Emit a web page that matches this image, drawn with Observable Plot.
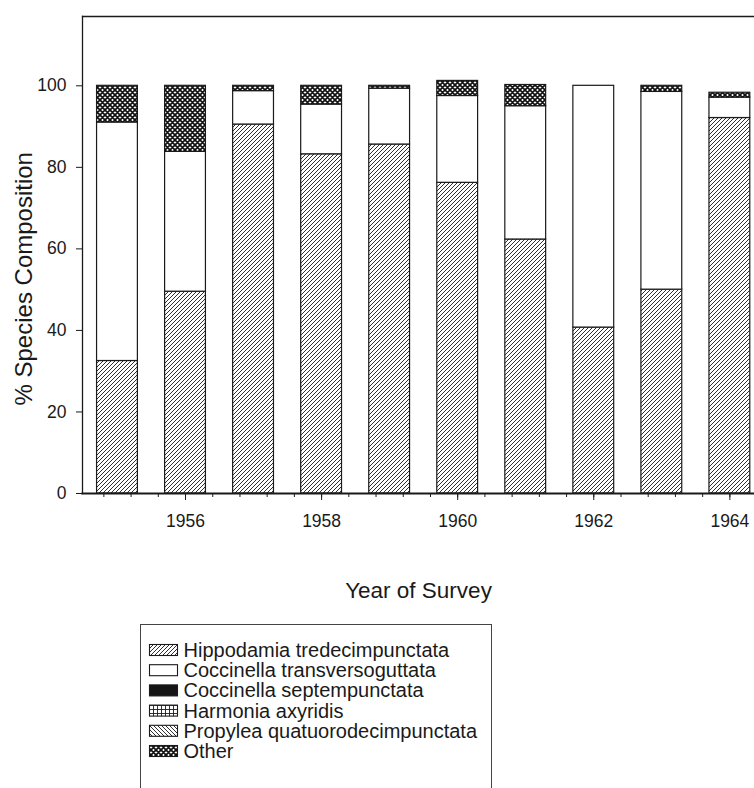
<!DOCTYPE html>
<html>
<head>
<meta charset="utf-8">
<script src="https://cdn.jsdelivr.net/npm/d3@7"></script>
<script src="https://cdn.jsdelivr.net/npm/@observablehq/plot@0.6"></script>
<style>
html, body { margin: 0; padding: 0; background: #fff; }
body { width: 754px; height: 788px; position: relative; overflow: hidden; font-family: "Liberation Sans", Arial, sans-serif; }
#chart { position: absolute; left: 0; top: 0; }
#legend { position: absolute; left: 140px; top: 624px; width: 352px; height: 220px; border: 1.5px solid #444; box-sizing: border-box; background: #fff; }
</style>
</head>
<body>
<svg width="0" height="0" style="position:absolute">
  <defs>
    <pattern id="pHip" patternUnits="userSpaceOnUse" width="4" height="4">
      <rect width="4" height="4" fill="#fff"/>
      <path d="M-1,1 L1,-1 M0,4 L4,0 M3,5 L5,3" stroke="#1a1a1a" stroke-width="0.9"/>
    </pattern>
    <pattern id="pPro" patternUnits="userSpaceOnUse" width="4" height="4">
      <rect width="4" height="4" fill="#fff"/>
      <path d="M-1,3 L1,5 M0,0 L4,4 M3,-1 L5,1" stroke="#1a1a1a" stroke-width="0.9"/>
    </pattern>
    <pattern id="pHar" patternUnits="userSpaceOnUse" width="4" height="4">
      <rect width="4" height="4" fill="#fff"/>
      <path d="M0,0.5 H4 M0.5,0 V4" stroke="#1a1a1a" stroke-width="0.9"/>
    </pattern>
    <pattern id="pOth" patternUnits="userSpaceOnUse" width="5" height="5">
      <rect width="5" height="5" fill="#fff"/>
      <path d="M0,0 L5,5 M5,0 L0,5 M-1,4 L1,6 M4,-1 L6,1 M-1,1 L1,-1 M4,6 L6,4" stroke="#111" stroke-width="1.7"/>
    </pattern>
  </defs>
</svg>
<div id="chart"></div>
<div id="legend"></div>
<script>
// ---- data ----
const years = [1955, 1956, 1957, 1958, 1959, 1960, 1961, 1962, 1963, 1964];
const species = [
  "Hippodamia tredecimpunctata",
  "Coccinella transversoguttata",
  "Coccinella septempunctata",
  "Harmonia axyridis",
  "Propylea quatuorodecimpunctata",
  "Other"
];
const hippodamia  = [32.5, 49.5, 90.5, 83.2, 85.6, 76.2, 62.3, 40.7, 50.0, 92.1];
const transverso  = [58.5, 34.3,  8.2, 12.2, 13.7, 21.3, 32.7, 59.3, 48.5,  5.0];
const septem      = [0, 0, 0, 0, 0, 0, 0, 0, 0, 0];
const harmonia    = [0, 0, 0, 0, 0, 0, 0, 0, 0, 0];
const propylea    = [0, 0, 0, 0, 0, 0, 0, 0, 0, 0];
const other       = [9.0, 16.2, 1.3, 4.6, 0.7, 3.7, 5.2, 0.0, 1.5, 1.2];
const xMajorTicks = [1956, 1958, 1960, 1962, 1964];
const xMinorTicks = [1954.8, 1955.2, 1955.6, 1956, 1956.4, 1956.8, 1957.2, 1957.6, 1958, 1958.4, 1958.8,
  1959.2, 1959.6, 1960, 1960.4, 1960.8, 1961.2, 1961.6, 1962, 1962.4, 1962.8, 1963.2, 1963.6, 1964];
const yTicks = [0, 20, 40, 60, 80, 100];

// ---- styles ----
const fills = ["url(#pHip)", "#fff", "#151515", "url(#pHar)", "url(#pPro)", "url(#pOth)"];
const halfBar = 0.3;

const seriesValues = [hippodamia, transverso, septem, harmonia, propylea, other];
const table = [];
years.forEach((year, i) => {
  species.forEach((sp, j) => {
    const v = seriesValues[j][i];
    if (v > 0) table.push({year, species: sp, value: v});
  });
});

const chart = Plot.plot({
  width: 754,
  height: 620,
  marginLeft: 82,
  marginRight: 0,
  marginTop: 16,
  marginBottom: 127,
  style: {fontFamily: '"Liberation Sans", Arial, sans-serif', color: "#1a1a1a", background: "#fff"},
  x: {domain: [1954.486, 1964.362]},
  y: {domain: [0, 117]},
  color: {type: "ordinal", domain: species, range: fills},
  marks: [
    Plot.rectY(table, Plot.stackY({
      x1: d => d.year - halfBar,
      x2: d => d.year + halfBar,
      y: "value",
      fill: "species",
      order: species,
      stroke: "#1a1a1a",
      strokeWidth: 1.2
    })),
    Plot.frame({anchor: "left", stroke: "#1a1a1a", strokeWidth: 1.3}),
    Plot.frame({anchor: "top", stroke: "#1a1a1a", strokeWidth: 1.3}),
    Plot.frame({anchor: "bottom", stroke: "#1a1a1a", strokeWidth: 2.2}),
    Plot.axisY({ticks: yTicks, tickSize: 6, tickPadding: 10, fontSize: 17.5, label: null, stroke: "#1a1a1a", fill: "#1a1a1a"}),
    Plot.axisX({ticks: xMinorTicks, tickSize: 4, tickFormat: () => "", label: null, stroke: "#1a1a1a"}),
    Plot.axisX({ticks: xMajorTicks, tickSize: 7, tickPadding: 14, tickFormat: d => String(d), fontSize: 17.5, label: null, stroke: "#1a1a1a", fill: "#1a1a1a"}),
    Plot.text(["Year of Survey"], {text: d => d, frameAnchor: "bottom", lineAnchor: "bottom", dy: 104, fontSize: 22.5, fill: "#1a1a1a"}),
    Plot.text(["% Species Composition"], {text: d => d, frameAnchor: "left", rotate: -90, textAnchor: "start", lineAnchor: "bottom", dx: -51, dy: 150.5, fontSize: 24, fill: "#1a1a1a"})
  ]
});
document.getElementById("chart").appendChild(chart);

// ---- legend ----
const lg = d3.select("#legend").append("svg").attr("width", 350).attr("height", 200)
  .style("font-family", '"Liberation Sans", Arial, sans-serif');
species.forEach((sp, i) => {
  const center = 25 + i * 20.2;
  lg.append("rect").attr("x", 8.5).attr("y", center - 5.5).attr("width", 28).attr("height", 11)
    .attr("fill", fills[i]).attr("stroke", "#1a1a1a").attr("stroke-width", 1.1);
  lg.append("text").attr("x", 42.5).attr("y", center + 7).attr("font-size", 20).attr("fill", "#1a1a1a").text(sp);
});
</script>
</body>
</html>
